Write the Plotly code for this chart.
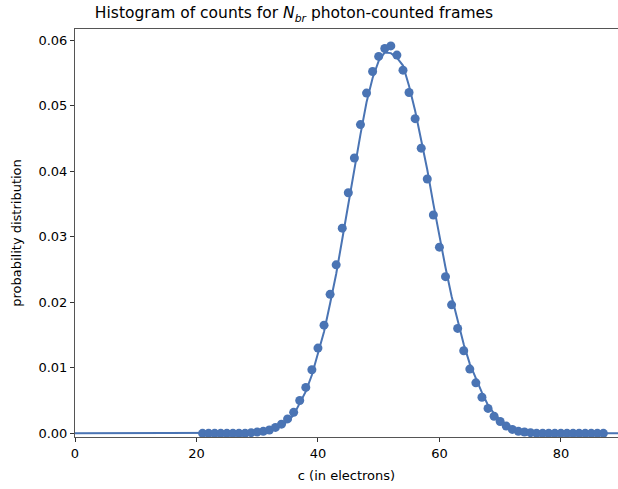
import plotly.graph_objects as go

# measured points (histogram of counts)
c_pts = list(range(21, 88))
p_pts = [0.0000, 0.0000, 0.0000, 0.0000, 0.0000, 0.0000, 0.0000, 0.0000,   # 21-28
         0.0001, 0.0002, 0.0003, 0.0005, 0.0009, 0.0014, 0.0022,           # 29-35
         0.0032, 0.0050, 0.0070, 0.0097, 0.0130, 0.0165, 0.0212, 0.0257,   # 36-43
         0.0313, 0.0367, 0.0420, 0.0471, 0.0519, 0.0552, 0.0575, 0.0587,   # 44-51
         0.0591, 0.0577, 0.0554, 0.0520, 0.0480, 0.0435, 0.0388, 0.0333,   # 52-59
         0.0284, 0.0239, 0.0196, 0.0160, 0.0126, 0.0098, 0.0077, 0.0055,   # 60-67
         0.0038, 0.0026, 0.0018, 0.0011, 0.0006, 0.0003, 0.0002, 0.0001,   # 68-75
         0.0000, 0.0000, 0.0000, 0.0000, 0.0000, 0.0000, 0.0000, 0.0000,   # 76-83
         0.0000, 0.0000, 0.0000, 0.0000]                                   # 84-87

# model curve
c_fit = list(range(0, 91))
p_fit = [0.0] * 30 + [
    0.0001, 0.0002, 0.0004, 0.0007, 0.0012, 0.0018,                   # 30-35
    0.0028, 0.0045, 0.0064, 0.0089, 0.0120, 0.0155, 0.0198, 0.0243,   # 36-43
    0.0296, 0.0351, 0.0404, 0.0456, 0.0505, 0.0542, 0.0568, 0.0581,   # 44-51
    0.0580, 0.0573, 0.0561, 0.0530, 0.0492, 0.0449, 0.0402, 0.0350,   # 52-59
    0.0299, 0.0253, 0.0209, 0.0171, 0.0136, 0.0106, 0.0083, 0.0062,   # 60-67
    0.0043, 0.0030, 0.0020, 0.0013, 0.0008, 0.0005, 0.0003, 0.0001,   # 68-75
] + [0.0] * 15                                                        # 76-90

blue = "#4a74b4"

fig = go.Figure()
fig.add_trace(go.Scatter(x=c_fit, y=p_fit, mode="lines",
                         line=dict(color=blue, width=2)))
fig.add_trace(go.Scatter(x=c_pts, y=p_pts, mode="markers",
                         marker=dict(color=blue, size=9)))

fig.update_layout(
    width=618, height=489,
    margin=dict(l=75, r=0, t=29, b=52, autoexpand=False),
    plot_bgcolor="white", paper_bgcolor="white",
    showlegend=False,
    font=dict(family="DejaVu Sans", size=13, color="black"),
    title=dict(text="Histogram of counts for <i>N</i><sub><i>br</i></sub> photon-counted frames",
               x=(294 - 75) / 543, xref="paper", xanchor="center",
               y=1 - 13 / 489, yref="container", yanchor="middle",
               font=dict(size=15.5)),
)
fig.update_xaxes(range=[0, 89.4], tickvals=[0, 20, 40, 60, 80],
                 ticks="outside", ticklen=4, tickcolor="#333",
                 showline=True, linecolor="#555", linewidth=1, mirror=True,
                 showgrid=False, zeroline=False, automargin=False,
                 title=dict(text="c (in electrons)", standoff=11, font=dict(size=13)))
fig.update_yaxes(range=[-0.00056, 0.06168], tickvals=[0, 0.01, 0.02, 0.03, 0.04, 0.05, 0.06],
                 tickformat=".2f",
                 ticks="outside", ticklen=4, tickcolor="#333",
                 showline=True, linecolor="#555", linewidth=1,
                 showgrid=False, zeroline=False, automargin=False,
                 title=dict(text="probability distribution", standoff=13, font=dict(size=13)))

# drop the default 8px page margin so the figure sits at the window corner
fig.write_html("out.html", config={"displayModeBar": False},
               post_script="document.body.style.margin='0';")
